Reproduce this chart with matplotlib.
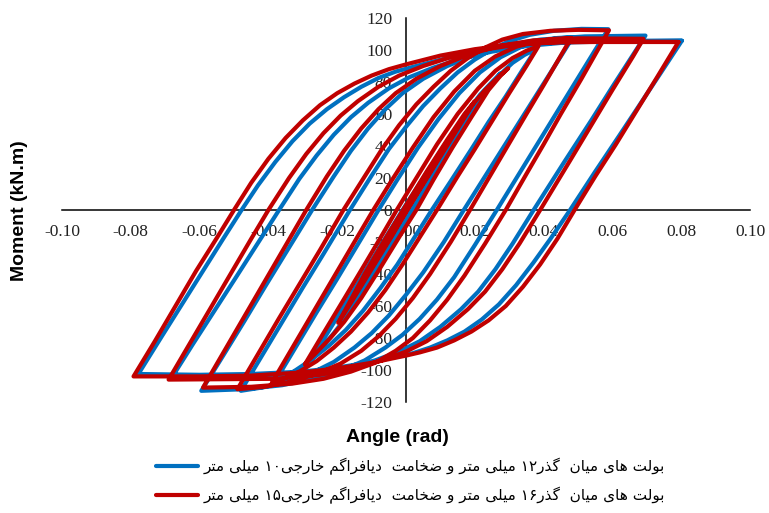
import re
import numpy as np
import matplotlib
matplotlib.use("Agg")
import matplotlib.pyplot as plt

# ---- data: rotation (rad) / moment (kN.m), branch by branch ----
# blue: 12 mm through bolts, 10 mm external diaphragm
blue_init_rot = [0, 0.006, -0.006, 0.010, -0.010, 0.015, -0.015, 0.020]
blue_init_mom = [0, 20, -21, 34, -35, 51, -52, 67]
blue_dn1_rot = [0.020, 0.017, 0.012, 0.006, 0.0, -0.006, -0.011, -0.0155, -0.019]
blue_dn1_mom = [67, 59, 43, 23, 2, -19, -39, -55, -69]
blue_up1_rot = [-0.019, -0.015, -0.009, -0.003, 0.003, 0.009, 0.014, 0.018, 0.0215, 0.025, 0.0275]
blue_up1_mom = [-69, -56, -35, -14, 8, 30, 48, 62, 72, 80, 85.5]
blue_dn2_rot = [0.0275, 0.0255, 0.022, 0.017, 0.012, 0.007, 0.002, -0.003, -0.008, -0.013, -0.017,
                -0.021, -0.0245, -0.0279]
blue_dn2_mom = [85.5, 80, 70, 54, 37, 18, 0, -18, -36, -53, -66, -77, -86, -94.5]
blue_up2_rot = [-0.0279, -0.022, -0.016, -0.010, -0.005, -0.001, 0.005, 0.011, 0.017, 0.022, 0.027,
                0.031, 0.0345, 0.0378]
blue_up2_mom = [-94.5, -74, -53, -31.5, -14, 0, 20, 40, 58, 72, 84, 92, 97, 100.5]
blue_dn3_rot = [0.0378, 0.034, 0.029, 0.024, 0.019, 0.013, 0.0075, 0.0025, -0.0025, -0.0075, -0.0125,
                -0.0175, -0.0225, -0.0275, -0.032, -0.035, -0.038]
blue_dn3_mom = [100.5, 88, 71, 55, 38, 18, 0, -17, -34, -49, -63, -75, -85, -93.5, -100, -104, -107]
blue_up3_rot = [-0.038, -0.032, -0.026, -0.020, -0.014, -0.008, -0.0025, 0.0035, 0.0095, 0.0155, 0.0215,
                0.0275, 0.0335, 0.039, 0.044, 0.0485]
blue_up3_mom = [-107, -85.5, -64, -43, -21.5, 0, 19, 39, 57, 73, 86, 95.5, 102, 105.5, 107.5, 108]
blue_dn4_rot = [0.0485, 0.045, 0.040, 0.035, 0.030, 0.024, 0.0168, 0.011, 0.005, 0.0, -0.005, -0.010,
                -0.015, -0.021, -0.028, -0.035, -0.042, -0.048]
blue_dn4_mom = [108, 96, 79, 62, 45, 24.5, 0, -20, -39, -53, -66, -77, -86, -95, -102.5, -107.5, -111, -113]
blue_up4_rot = [-0.048, -0.042, -0.036, -0.030, -0.024, -0.0163, -0.010, -0.005, 0.0, 0.005, 0.010, 0.015,
                0.020, 0.025, 0.030, 0.036, 0.043, 0.051, 0.0588]
blue_up4_mom = [-113, -91.5, -70, -48.5, -27.5, 0, 21.5, 38, 52, 65, 76, 86, 94, 100.5, 105.5, 109.5, 112,
                113.2, 113]
blue_dn5_rot = [0.0588, 0.055, 0.050, 0.044, 0.038, 0.032, 0.0264, 0.020, 0.014, 0.009, 0.004, -0.001,
                -0.006, -0.012, -0.019, -0.027, -0.036, -0.047, -0.0595]
blue_dn5_mom = [113, 100, 82.5, 61.5, 40.5, 19.5, 0, -22, -42, -56, -68, -78, -86, -94, -100.5, -105.5,
                -109.5, -112, -113]
blue_up5_rot = [-0.0595, -0.053, -0.047, -0.041, -0.034, -0.0273, -0.021, -0.016, -0.011, -0.006, -0.001,
                0.005, 0.012, 0.020, 0.029, 0.039, 0.052, 0.0696]
blue_up5_mom = [-113, -90.5, -69.5, -48, -23.5, 0, 21, 37, 51, 63, 73, 82, 90, 97, 103, 106.5, 108.5, 109]
blue_dn6_rot = [0.0696, 0.066, 0.060, 0.054, 0.046, 0.0371, 0.031, 0.026, 0.021, 0.016, 0.010, 0.004,
                -0.002, -0.009, -0.017, -0.027, -0.040, -0.068]
blue_dn6_mom = [109, 97, 77, 56.5, 30, 0, -21, -37, -51, -62, -73, -82, -88.5, -94, -99, -102.5, -104.5,
                -104.5]
blue_up6_rot = [-0.068, -0.062, -0.056, -0.050, -0.043, -0.0369, -0.031, -0.026, -0.021, -0.016, -0.011,
                -0.005, 0.001, 0.008, 0.016, 0.025, 0.035, 0.048, 0.063, 0.0802]
blue_up6_mom = [-104.5, -84, -64, -44, -20.5, 0, 19.5, 34, 47, 58, 67, 76, 83, 89, 94.5, 99, 102.5, 105,
                105.8, 105.8]
blue_dn7_rot = [0.0802, 0.074, 0.068, 0.062, 0.055, 0.0477, 0.042, 0.037, 0.032, 0.027, 0.022, 0.017,
                0.012, 0.007, 0.002, 0.0, -0.010, -0.020, -0.030, -0.045, -0.060, -0.0778]
blue_dn7_mom = [105.8, 85.5, 66, 46.5, 24, 0, -18, -33, -47, -59, -68.5, -76, -81.5, -86, -89.5, -90.5,
                -95, -98.5, -101, -102.5, -103, -102.5]
blue_up7_rot = [-0.0778, -0.071, -0.065, -0.059, -0.053, -0.0478, -0.043, -0.038, -0.033, -0.028, -0.023,
                -0.018, -0.013, -0.008, -0.003, 0.003, 0.012, 0.022, 0.032, 0.043, 0.058, 0.0802]
blue_up7_mom = [-102.5, -79, -58.5, -38, -17.5, 0, 15.5, 30, 43, 54, 63, 70.5, 77, 82.5, 86.5, 90, 95,
                99.5, 102.5, 104.5, 105.3, 105.8]

# red: 16 mm through bolts, 15 mm external diaphragm
red_init_rot = [0, 0.006, -0.006, 0.010, -0.010, 0.015, -0.015, 0.020]
red_init_mom = [0, 21, -22, 35, -36, 52, -53, 68]
red_dn1_rot = [0.020, 0.017, 0.012, 0.006, 0.0, -0.006, -0.012, -0.016, -0.0197]
red_dn1_mom = [68, 60, 44, 24, 3, -18, -40, -56, -70.5]
red_up1_rot = [-0.0197, -0.016, -0.010, -0.004, 0.002, 0.008, 0.014, 0.019, 0.023, 0.0265, 0.0297]
red_up1_mom = [-70.5, -58, -37, -16, 6, 28, 49, 65, 75, 82.5, 88.6]
red_dn2_rot = [0.0297, 0.0275, 0.024, 0.019, 0.0135, 0.008, 0.003, -0.002, -0.008, -0.013, -0.018,
               -0.022, -0.026, -0.0294]
red_dn2_mom = [88.6, 84, 75, 58, 39, 19, 0, -17, -38, -55, -70, -80, -89, -96.5]
red_up2_rot = [-0.0294, -0.024, -0.018, -0.012, -0.0065, -0.0027, 0.003, 0.009, 0.015, 0.021, 0.026,
               0.031, 0.035, 0.0385]
red_up2_mom = [-96.5, -77, -55.6, -34, -14, 0, 20, 41, 60, 76, 87, 95, 99.5, 102.4]
red_dn3_rot = [0.0385, 0.035, 0.030, 0.025, 0.020, 0.015, 0.009, 0.004, -0.001, -0.006, -0.011, -0.016,
               -0.021, -0.026, -0.031, -0.035, -0.039]
red_dn3_mom = [102.4, 90, 73, 55.5, 38, 21, 0, -17, -34, -50, -64, -76, -86, -94.5, -101, -105, -108]
red_up3_rot = [-0.039, -0.033, -0.027, -0.021, -0.015, -0.0095, -0.004, 0.002, 0.008, 0.014, 0.020,
               0.026, 0.032, 0.038, 0.043, 0.048]
red_up3_mom = [-108, -86, -64, -42, -20, 0, 19, 39, 58, 74, 87, 96, 102, 105.5, 107, 107.5]
red_dn4_rot = [0.048, 0.045, 0.040, 0.035, 0.030, 0.025, 0.0186, 0.013, 0.007, 0.002, -0.003, -0.008,
               -0.013, -0.019, -0.026, -0.033, -0.041, -0.049]
red_dn4_mom = [107.5, 96.5, 78, 60, 41.7, 23.4, 0, -20, -40, -55, -68, -79, -88, -96, -102.5, -107,
               -110.5, -112]
red_up4_rot = [-0.049, -0.043, -0.037, -0.031, -0.025, -0.0182, -0.012, -0.007, -0.002, 0.003, 0.008,
               0.013, 0.018, 0.023, 0.028, 0.034, 0.042, 0.050, 0.059]
red_up4_mom = [-112, -90, -68, -46.5, -25, 0, 21, 38, 53, 66, 77, 87, 95, 101.5, 106.5, 110, 112, 112.6,
               112.3]
red_dn5_rot = [0.059, 0.056, 0.051, 0.045, 0.040, 0.035, 0.029, 0.023, 0.017, 0.012, 0.007, 0.002, -0.003,
               -0.009, -0.016, -0.024, -0.033, -0.045, -0.059]
red_dn5_mom = [112.3, 101, 82, 60, 41, 22.5, 0, -21, -41, -56, -69, -80, -88, -95.5, -101, -105.5,
               -108.5, -110.5, -111]
red_up5_rot = [-0.059, -0.053, -0.047, -0.041, -0.035, -0.029, -0.023, -0.018, -0.013, -0.008, -0.003,
               0.003, 0.010, 0.018, 0.027, 0.037, 0.050, 0.069]
red_up5_mom = [-111, -88.8, -66.6, -44.4, -22.2, 0, 21, 37, 51, 63, 73, 82, 90, 97, 102.5, 106, 107.3, 107]
red_dn6_rot = [0.069, 0.066, 0.060, 0.054, 0.048, 0.039, 0.033, 0.028, 0.023, 0.018, 0.012, 0.006, 0.0,
               -0.007, -0.015, -0.025, -0.038, -0.069]
red_dn6_mom = [107, 96, 75, 53.5, 32, 0, -21, -37, -51, -62, -73, -82, -88.5, -94, -99, -103, -105.5, -106]
red_up6_rot = [-0.069, -0.063, -0.057, -0.051, -0.045, -0.040, -0.034, -0.029, -0.024, -0.019, -0.014,
               -0.008, -0.002, 0.005, 0.013, 0.022, 0.032, 0.045, 0.060, 0.0792]
red_up6_mom = [-106, -84, -62, -40, -18, 0, 20, 35, 48, 59, 68, 77, 84, 90, 95.5, 100, 103.3, 105, 105.3,
               105]
red_dn7_rot = [0.0792, 0.073, 0.067, 0.061, 0.055, 0.049, 0.044, 0.039, 0.034, 0.029, 0.024, 0.019, 0.014,
               0.009, 0.004, 0.0, -0.010, -0.020, -0.030, -0.045, -0.060, -0.0792]
red_dn7_mom = [105, 83, 62, 41, 21, 0, -18, -34, -48, -60, -69, -76, -81.5, -86, -89, -91, -95.5, -99,
               -101.5, -103.5, -104, -104]
red_up7_rot = [-0.0792, -0.073, -0.067, -0.061, -0.055, -0.050, -0.045, -0.040, -0.035, -0.030, -0.025,
               -0.020, -0.015, -0.010, -0.005, 0.0, 0.010, 0.020, 0.030, 0.040, 0.055, 0.0792]
red_up7_mom = [-104, -82, -60, -38, -17.5, 0, 17, 32, 45, 56, 65.5, 73, 79, 84, 88, 91, 96.5, 100.5,
               103.3, 104.7, 105, 105]

x_ticks = [-0.10, -0.08, -0.06, -0.04, -0.02, 0.00, 0.02, 0.04, 0.06, 0.08, 0.10]
x_tick_labels = ["-0.10", "-0.08", "-0.06", "-0.04", "-0.02", "0.00", "0.02", "0.04", "0.06", "0.08", "0.10"]
y_ticks = [-120, -100, -80, -60, -40, -20, 0, 20, 40, 60, 80, 100, 120]
y_tick_labels = [str(v) for v in y_ticks]

label_blue = "بولت های میان  گذر۱۲ میلی متر و ضخامت  دیافراگم خارجی۱۰ میلی متر"
label_red = "بولت های میان  گذر۱۶ میلی متر و ضخامت  دیافراگم خارجی۱۵ میلی متر"

BLUE = "#0070C0"
RED = "#C00000"

# matplotlib does no arabic shaping, so pick the presentation forms by hand
# (isolated, final, initial, medial)
FA_FORMS = {
    "ا": ("\uFE8D", "\uFE8E", None, None),
    "ب": ("\uFE8F", "\uFE90", "\uFE91", "\uFE92"),
    "ت": ("\uFE95", "\uFE96", "\uFE97", "\uFE98"),
    "ج": ("\uFE9D", "\uFE9E", "\uFE9F", "\uFEA0"),
    "خ": ("\uFEA5", "\uFEA6", "\uFEA7", "\uFEA8"),
    "د": ("\uFEA9", "\uFEAA", None, None),
    "ذ": ("\uFEAB", "\uFEAC", None, None),
    "ر": ("\uFEAD", "\uFEAE", None, None),
    "ض": ("\uFEBD", "\uFEBE", "\uFEBF", "\uFEC0"),
    "ف": ("\uFED1", "\uFED2", "\uFED3", "\uFED4"),
    "ل": ("\uFEDD", "\uFEDE", "\uFEDF", "\uFEE0"),
    "م": ("\uFEE1", "\uFEE2", "\uFEE3", "\uFEE4"),
    "ن": ("\uFEE5", "\uFEE6", "\uFEE7", "\uFEE8"),
    "ه": ("\uFEE9", "\uFEEA", "\uFEEB", "\uFEEC"),
    "و": ("\uFEED", "\uFEEE", None, None),
    "گ": ("\uFB92", "\uFB93", "\uFB94", "\uFB95"),
    "ی": ("\uFBFC", "\uFBFD", "\uFBFE", "\uFBFF"),
}


def shape_fa(text):
    """Join persian letters and put them in visual (right to left) order."""
    text = text.replace("\u064A", "\u06CC")
    out = []
    for i, ch in enumerate(text):
        forms = FA_FORMS.get(ch)
        if forms is None:
            out.append(ch)
            continue
        prev = text[i - 1] if i > 0 else ""
        nxt = text[i + 1] if i + 1 < len(text) else ""
        join_prev = prev in FA_FORMS and FA_FORMS[prev][2] is not None
        join_next = forms[2] is not None and nxt in FA_FORMS
        if join_prev and join_next:
            out.append(forms[3])
        elif join_prev:
            out.append(forms[1])
        elif join_next:
            out.append(forms[2])
        else:
            out.append(forms[0])
    runs = re.findall(r"[\u06F0-\u06F90-9]+|.", "".join(out))
    return "".join(reversed(runs))


blue_rot = np.concatenate([blue_init_rot, blue_dn1_rot, blue_up1_rot, blue_dn2_rot, blue_up2_rot,
                           blue_dn3_rot, blue_up3_rot, blue_dn4_rot, blue_up4_rot, blue_dn5_rot,
                           blue_up5_rot, blue_dn6_rot, blue_up6_rot, blue_dn7_rot, blue_up7_rot])
blue_mom = np.concatenate([blue_init_mom, blue_dn1_mom, blue_up1_mom, blue_dn2_mom, blue_up2_mom,
                           blue_dn3_mom, blue_up3_mom, blue_dn4_mom, blue_up4_mom, blue_dn5_mom,
                           blue_up5_mom, blue_dn6_mom, blue_up6_mom, blue_dn7_mom, blue_up7_mom])
red_rot = np.concatenate([red_init_rot, red_dn1_rot, red_up1_rot, red_dn2_rot, red_up2_rot,
                          red_dn3_rot, red_up3_rot, red_dn4_rot, red_up4_rot, red_dn5_rot,
                          red_up5_rot, red_dn6_rot, red_up6_rot, red_dn7_rot, red_up7_rot])
red_mom = np.concatenate([red_init_mom, red_dn1_mom, red_up1_mom, red_dn2_mom, red_up2_mom,
                          red_dn3_mom, red_up3_mom, red_dn4_mom, red_up4_mom, red_dn5_mom,
                          red_up5_mom, red_dn6_mom, red_up6_mom, red_dn7_mom, red_up7_mom])

W, H = 769, 513
fig = plt.figure(figsize=(W / 100, H / 100), dpi=100)
ax = fig.add_axes([62 / W, 111 / H, 688 / W, 384 / H])

line_kw = dict(lw=3.0, solid_joinstyle="round", solid_capstyle="round")
l_blue, = ax.plot(blue_rot, blue_mom, color=BLUE, **line_kw)
l_red, = ax.plot(red_rot, red_mom, color=RED, **line_kw)

ax.set_xlim(-0.10, 0.10)
ax.set_ylim(-120, 120)
for side in ["top", "right"]:
    ax.spines[side].set_visible(False)
for side in ["left", "bottom"]:
    ax.spines[side].set_position(("data", 0))
    ax.spines[side].set_linewidth(1.1)
    ax.spines[side].set_color("black")
    ax.spines[side].set_zorder(0)

tick_font = dict(family="Liberation Serif", size=12.5, color="#222222")
ax.set_xticks(x_ticks)
ax.set_xticklabels(x_tick_labels, **tick_font)
ax.set_yticks(y_ticks)
ax.set_yticklabels(y_tick_labels, **tick_font)
ax.tick_params(axis="x", length=0, pad=10)
ax.tick_params(axis="y", length=0, pad=10)

fig.text(20 / W, 1 - 211 / H, "Moment (kN.m)", rotation=90, ha="center", va="center",
         fontsize=14, fontweight="bold", family="Liberation Sans")
fig.text(397 / W, 1 - 437 / H, "Angle (rad)", ha="center", va="center",
         fontsize=14, fontweight="bold", family="Liberation Sans")

fig.legend([l_blue, l_red], [shape_fa(label_blue), shape_fa(label_red)],
           loc="upper left", bbox_to_anchor=(156 / W, 1 - 458 / H), frameon=False,
           prop={"family": "DejaVu Sans", "size": 11}, handlelength=2.75,
           handletextpad=0.35, labelspacing=0.75, borderpad=0, borderaxespad=0)

fig.savefig("out.png", dpi=100)
